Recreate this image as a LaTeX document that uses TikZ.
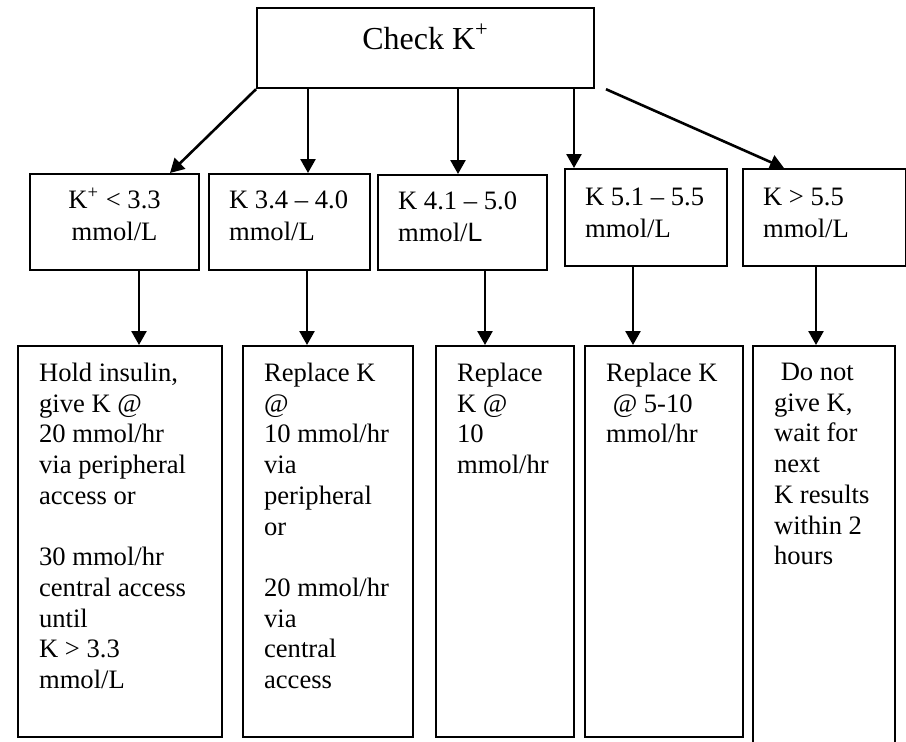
\documentclass[tikz,border=0pt]{standalone}
\usepackage{fontspec}
\setmainfont{Liberation Serif}
\newfontfamily\arialfont{Liberation Sans}
\usetikzlibrary{arrows.meta}

\tikzstyle{box}=[draw, line width=1.1pt, anchor=north west, inner sep=0pt, font=\fontsize{13.3}{15.35}\selectfont]
\tikzstyle{rangebox}=[box, inner xsep=10pt, inner ysep=8.5pt, font=\fontsize{13.3}{15.8}\selectfont]
\tikzstyle{todobox}=[box, inner xsep=10.5pt, inner ysep=8.5pt]
\tikzstyle{arr}=[line width=1.3pt, -{Triangle[length=7pt,width=7.5pt]}]

\newcommand{\cell}[3]{\parbox[t][#2][t]{#1}{\raggedright #3}}
\newcommand{\kplus}{K\smash{\textsuperscript{+}}}

\begin{document}
\begin{tikzpicture}[x=0.5pt,y=-0.5pt]
            \useasboundingbox (0,0) rectangle (906,741);
            \clip (0,0) rectangle (906,741);
            \node[box, inner xsep=10pt, inner ysep=9.5pt, font=\fontsize{16}{18.4}\selectfont] (check) at (256,7) {\cell{148.5pt}{21pt}{\centering Check \kplus}};
            % potassium ranges
            \node[rangebox] (r1) at (29,173) {\cell{64.5pt}{31pt}{\centering \kplus{} < 3.3\\ mmol/L}};
            \node[rangebox] (r2) at (208,173) {\cell{60.5pt}{31pt}{K 3.4 – 4.0\\ mmol/L}};
            \node[rangebox] (r3) at (377,174) {\cell{64.5pt}{30.5pt}{K 4.1 – 5.0\\ mmol/{\arialfont L}}};
            \node[rangebox, inner ysep=9.5pt] (r4) at (564,168) {\cell{61pt}{29.5pt}{K 5.1 – 5.5\\ mmol/L}};
            \node[rangebox, inner ysep=9.5pt] (r5) at (742,168) {\cell{61.5pt}{29.5pt}{K > 5.5\\ mmol/L}};
            % what to do
            \node[todobox] (a1) at (17,345) {\cell{81pt}{178.5pt}{Hold insulin,\\ give K @\\ 20 mmol/hr\\ via peripheral\\ access or\\[15.35pt] 30 mmol/hr\\ central access\\ until\\ K > 3.3\\ mmol/L}};
            \node[todobox] (a2) at (242,345) {\cell{64pt}{178.5pt}{Replace K\\ @\\ 10 mmol/hr\\ via\\ peripheral\\ or\\[15.35pt] 20 mmol/hr\\ via\\ central\\ access}};
            \node[todobox] (a3) at (435,345) {\cell{48pt}{178.5pt}{Replace\\ K @\\ 10\\ mmol/hr}};
            \node[todobox] (a4) at (584,345) {\cell{58pt}{178.5pt}{Replace K\\ \hspace*{0.25em}@ 5-10\\ mmol/hr}};
            \node[todobox] (a5) at (752,345) {\cell{50pt}{200pt}{\hspace*{0.25em}Do not\\ give K,\\ wait for\\ next\\ K results\\ within 2\\ hours}};
            \draw (check.south west) edge[arr] (170,0 |- r1.north);
            \draw (308,0 |- check.south) edge[arr] (308,0 |- r2.north);
            \draw (458,0 |- check.south) edge[arr] (458,0 |- r3.north);
            \draw (574,0 |- check.south) edge[arr] (574,0 |- r4.north);
            \draw (606,0 |- check.south) edge[arr] (784,0 |- r5.north);
            \draw (139,0 |- r1.south) edge[arr] (139,0 |- a1.north);
            \draw (307,0 |- r2.south) edge[arr] (307,0 |- a2.north);
            \draw (485,0 |- r3.south) edge[arr] (485,0 |- a3.north);
            \draw (633,0 |- r4.south) edge[arr] (633,0 |- a4.north);
            \draw (816,0 |- r5.south) edge[arr] (816,0 |- a5.north);
        \end{tikzpicture}
\end{document}
